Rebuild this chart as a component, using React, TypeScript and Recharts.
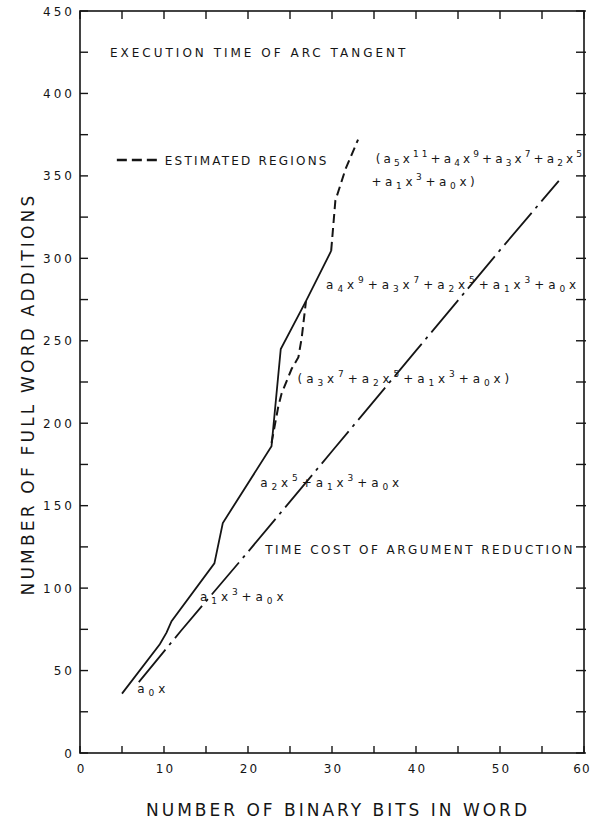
import React from 'react';
import { LineChart, Line, XAxis, YAxis, ReferenceDot, ReferenceArea } from 'recharts';

// ---- data ----
const xTicks = [0, 5, 10, 15, 20, 25, 30, 35, 40, 45, 50, 55, 60];
const yTicks = [0, 25, 50, 75, 100, 125, 150, 175, 200, 225, 250, 275, 300, 325, 350, 375, 400, 425, 450];
const xLabelTicks = [0, 10, 20, 30, 40, 50, 60];
const yLabelTicks = [0, 50, 100, 150, 200, 250, 300, 350, 400, 450];

// execution time of arc tangent (solid)
const totalBits = [5.0, 9.5, 10.3, 10.9, 16.0, 17.0, 22.8, 23.9, 26.9, 29.9];
const totalAdds = [36, 66, 73, 80, 115, 139.5, 186, 245, 274, 304.5];

// estimated region (a3x^7 ...) dashed
const est7Bits = [22.8, 23.6, 24.0, 25.2, 26.0, 26.4, 26.9];
const est7Adds = [188, 210, 218, 233, 240, 252, 274];

// estimated region (a5x^11 ...) dashed
const est11Bits = [29.9, 30.4, 31.1, 31.6, 33.1];
const est11Adds = [304.5, 335, 346, 354, 372];

// time cost of argument reduction (dash-dot)
const redBits = [7, 12, 20, 30, 40, 50, 57];
const redAdds = [43, 74, 122, 183, 244, 305, 347];

const toPts = (xs: number[], ys: number[]) => xs.map((x, i) => ({ x, y: ys[i] }));
const totalData = toPts(totalBits, totalAdds);
const est7Data = toPts(est7Bits, est7Adds);
const est11Data = toPts(est11Bits, est11Adds);
const redData = toPts(redBits, redAdds);

// annotation texts anchored (start) in data coordinates
const notes = [
  { x: 3.57, y: 425, text: 'EXECUTION TIME OF ARC TANGENT', size: 12, ls: 3.0 },
  { x: 10.1, y: 359.6, text: 'ESTIMATED REGIONS', size: 12, ls: 2.2, legend: true },
  { x: 35.2, y: 360.8, text: '(a_5x^{11}+a_4x^9+a_3x^7+a_2x^5', size: 12, ls: 3.1 },
  { x: 34.7, y: 346.3, text: '+a_1x^3+a_0x)', size: 12, ls: 3.6 },
  { x: 29.3, y: 283.9, text: 'a_4x^9+a_3x^7+a_2x^5+a_1x^3+a_0x', size: 12, ls: 3.9 },
  { x: 25.9, y: 227.4, text: '(a_3x^7+a_2x^5+a_1x^3+a_0x)', size: 12, ls: 3.9 },
  { x: 21.45, y: 164.3, text: 'a_2x^5+a_1x^3+a_0x', size: 12, ls: 3.9 },
  { x: 22.06, y: 123.7, text: 'TIME COST OF ARGUMENT REDUCTION', size: 12, ls: 2.45 },
  { x: 14.29, y: 94.8, text: 'a_1x^3+a_0x', size: 12, ls: 3.9 },
  { x: 6.82, y: 39.4, text: 'a_0x', size: 12, ls: 3.9 },
];

const X_MAX = 60;
const Y_MAX = 450;

const FONT = '"DejaVu Sans", sans-serif';
const INK = '#151515';
const PLOT_TOP = 11;
const PLOT_BOTTOM = 753;
const PLOT_LEFT = 80;
const PLOT_RIGHT = 584;

function richParts(str: string, base: number) {
  const small = Math.round(base * 0.72);
  const parts: React.ReactNode[] = [];
  let i = 0;
  let shift = 0;
  let k = 0;
  while (i < str.length) {
    const c = str[i];
    if (c === '_' || c === '^') {
      let content = '';
      if (str[i + 1] === '{') {
        const j = str.indexOf('}', i);
        content = str.slice(i + 2, j);
        i = j + 1;
      } else {
        content = str[i + 1];
        i += 2;
      }
      const target = c === '_' ? 3 : -6;
      parts.push(
        <tspan key={k++} dy={target - shift} fontSize={small}>
          {content}
        </tspan>
      );
      shift = target;
    } else {
      let j = i;
      while (j < str.length && str[j] !== '_' && str[j] !== '^') j++;
      parts.push(
        <tspan key={k++} dy={-shift} fontSize={base}>
          {str.slice(i, j)}
        </tspan>
      );
      shift = 0;
      i = j;
    }
  }
  return parts;
}

const Note = (props: any) => {
  const { cx, cy, note } = props;
  if (cx == null || cy == null) return null;
  return (
    <g>
      {note.legend && (
        <line
          x1={cx - 48}
          x2={cx - 8}
          y1={cy}
          y2={cy}
          stroke={INK}
          strokeWidth={2.4}
          strokeDasharray="10 5"
        />
      )}
      <text
        x={cx}
        y={cy + 4.5}
        fill={INK}
        fontFamily={FONT}
        fontSize={note.size}
        letterSpacing={note.ls}
        textAnchor="start"
      >
        {richParts(note.text, note.size)}
      </text>
    </g>
  );
};

// frame with inward tick marks on all four sides, sized from the area the library computes
const Frame = (props: any) => {
  const { x, y, width, height } = props;
  if ([x, y, width, height].some((v) => typeof v !== 'number' || isNaN(v))) return null;
  const L = 8;
  const sw = 1.4;
  return (
    <g>
      <rect x={x} y={y} width={width} height={height} fill="none" stroke={INK} strokeWidth={1.6} />
      {xTicks.map((t) => {
        const px = x + (t / X_MAX) * width;
        return (
          <g key={'x' + t}>
            <line x1={px} x2={px} y1={y + height} y2={y + height - L + 1} stroke={INK} strokeWidth={sw} />
            <line x1={px} x2={px} y1={y} y2={y + L} stroke={INK} strokeWidth={sw} />
          </g>
        );
      })}
      {yTicks.map((t) => {
        const py = y + height - (t / Y_MAX) * height;
        return (
          <g key={'y' + t}>
            <line x1={x} x2={x + L} y1={py} y2={py} stroke={INK} strokeWidth={sw} />
            <line x1={x + width - L} x2={x + width + 2} y1={py} y2={py} stroke={INK} strokeWidth={sw} />
          </g>
        );
      })}
    </g>
  );
};

const BottomTick = (props: any) => {
  const { x, payload } = props;
  const v = payload.value;
  if (!xLabelTicks.includes(v)) return <g />;
  return (
    <text x={x + (v === 60 ? -2 : 1.5)} y={PLOT_BOTTOM + 19.5} textAnchor="middle" fontFamily={FONT} fontSize={12} letterSpacing={v === 60 ? 1 : 2} fill={INK}>
      {v}
    </text>
  );
};

const LeftTick = (props: any) => {
  const { x, y, payload } = props;
  const v = payload.value;
  if (!yLabelTicks.includes(v)) return <g />;
  return (
    <text x={x - 5} y={y + 4.5} textAnchor="end" fontFamily={FONT} fontSize={12} letterSpacing={3} fill={INK}>
      {v}
    </text>
  );
};

const XTitle = (props: any) => {
  const vb = props.viewBox || {};
  const cx = vb.x + vb.width / 2 + 6;
  return (
    <text x={cx} y={vb.y + 63} textAnchor="middle" fontFamily={FONT} fontSize={17} letterSpacing={3} fill={INK}>
      NUMBER OF BINARY BITS IN WORD
    </text>
  );
};

const YTitle = (props: any) => {
  const vb = props.viewBox || {};
  const cy = vb.y + vb.height / 2 + 12;
  const cx = 34;
  return (
    <text
      x={cx}
      y={cy}
      transform={`rotate(-90, ${cx}, ${cy})`}
      textAnchor="middle"
      fontFamily={FONT}
      fontSize={17}
      letterSpacing={3.2}
      fill={INK}
    >
      NUMBER OF FULL WORD ADDITIONS
    </text>
  );
};

export default function App() {
  return (
    <div style={{ position: 'absolute', left: 0, top: 0, width: 592, height: 822, background: '#fff' }}>
      <LineChart width={592} height={822} margin={{ top: PLOT_TOP, right: 592 - PLOT_RIGHT, bottom: 0, left: 0 }}>
        <XAxis
          xAxisId="b"
          type="number"
          dataKey="x"
          domain={[0, X_MAX]}
          ticks={xTicks}
          interval={0}
          height={822 - PLOT_BOTTOM}
          tickSize={0}
          tickMargin={0}
          tickLine={false}
          axisLine={false}
          tick={<BottomTick />}
          allowDataOverflow
          label={<XTitle />}
        />
        <YAxis
          yAxisId="l"
          type="number"
          domain={[0, Y_MAX]}
          ticks={yTicks}
          interval={0}
          width={PLOT_LEFT}
          tickSize={0}
          tickMargin={0}
          tickLine={false}
          axisLine={false}
          tick={<LeftTick />}
          allowDataOverflow
          label={<YTitle />}
        />
        <ReferenceArea
          xAxisId="b"
          yAxisId="l"
          x1={0}
          x2={X_MAX}
          y1={0}
          y2={Y_MAX}
          ifOverflow="visible"
          fill="none"
          shape={(p: any) => <Frame {...p} />}
        />
        <Line
          xAxisId="b"
          yAxisId="l"
          data={redData}
          dataKey="y"
          type="linear"
          stroke={INK}
          strokeWidth={1.8}
          strokeDasharray="42 6 3 6"
          dot={false}
          activeDot={false}
          isAnimationActive={false}
        />
        <Line
          xAxisId="b"
          yAxisId="l"
          data={totalData}
          dataKey="y"
          type="linear"
          stroke={INK}
          strokeWidth={1.8}
          dot={false}
          activeDot={false}
          isAnimationActive={false}
        />
        <Line
          xAxisId="b"
          yAxisId="l"
          data={est7Data}
          dataKey="y"
          type="linear"
          stroke={INK}
          strokeWidth={2}
          strokeDasharray="9 5"
          dot={false}
          activeDot={false}
          isAnimationActive={false}
        />
        <Line
          xAxisId="b"
          yAxisId="l"
          data={est11Data}
          dataKey="y"
          type="linear"
          stroke={INK}
          strokeWidth={2}
          strokeDasharray="9 5"
          dot={false}
          activeDot={false}
          isAnimationActive={false}
        />
        {notes.map((n, i) => (
          <ReferenceDot
            key={i}
            xAxisId="b"
            yAxisId="l"
            x={n.x}
            y={n.y}
            r={0}
            ifOverflow="visible"
            shape={(p: any) => <Note {...p} note={n} />}
          />
        ))}
      </LineChart>
    </div>
  );
}
